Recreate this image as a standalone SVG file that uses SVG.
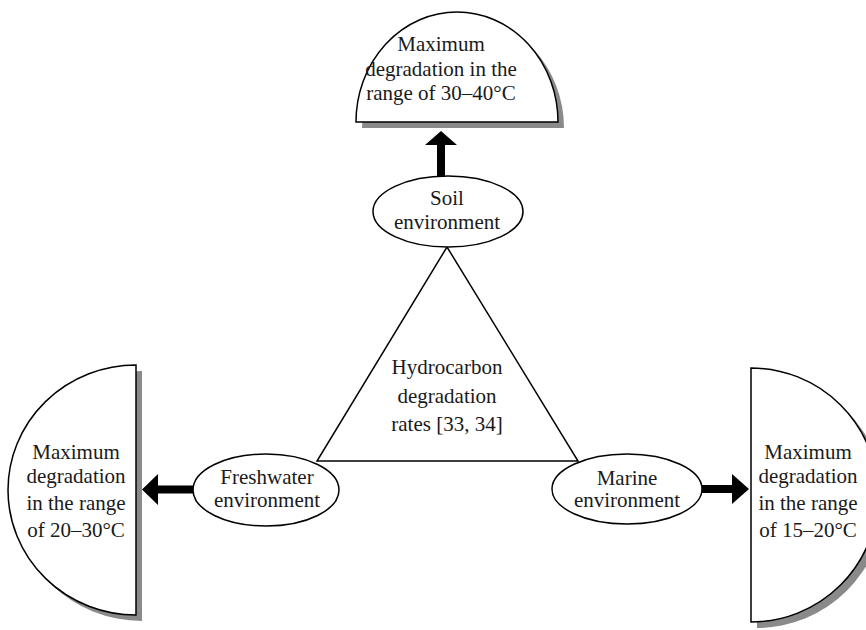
<svg xmlns="http://www.w3.org/2000/svg" width="866" height="630" viewBox="0 0 866 630">
<style>
.shape{fill:#fff;stroke:#000;stroke-width:1.5}
.shadow{fill:#8a8a8a;stroke:none}
.lbl{font-family:"Liberation Serif","Times New Roman",serif;font-size:21px;fill:#1a1a1a;text-anchor:middle}
.arrow{fill:#000;stroke:none}
.line{fill:none;stroke:#000;stroke-width:1.5}
</style>
<rect width="866" height="630" fill="#fff"/>
<g id="soil-range">
<path class="shadow" d="M 362 128 A 101 110 0 0 1 564 128 Z"/>
<path class="shape" d="M 356 122 A 101 110 0 0 1 558 122 Z"/>
<text class="lbl" x="441" y="51">Maximum</text>
<text class="lbl" x="441" y="76">degradation in the</text>
<text class="lbl" x="441" y="100">range of 30–40°C</text>
</g>
<g id="freshwater-range">
<path class="shadow" d="M 142 371 A 128 125 0 0 0 142 621 Z"/>
<path class="shape" d="M 136 365 A 128 125 0 0 0 136 615 Z"/>
<text class="lbl" x="76" y="459">Maximum</text>
<text class="lbl" x="76" y="483">degradation</text>
<text class="lbl" x="76" y="510">in the range</text>
<text class="lbl" x="76" y="537">of 20–30°C</text>
</g>
<g id="marine-range">
<path class="shadow" d="M 757 374 A 127 127 0 0 1 757 628 Z"/>
<path class="shape" d="M 751 368 A 127 127 0 0 1 751 622 Z"/>
<text class="lbl" x="808" y="459">Maximum</text>
<text class="lbl" x="808" y="483">degradation</text>
<text class="lbl" x="808" y="510">in the range</text>
<text class="lbl" x="808" y="537">of 15–20°C</text>
</g>
<g id="connectors">
<polygon class="line" points="447,247 317,461 578,461"/>
<polygon class="arrow" points="437,177 437,145 425,145 441,131 457,145 445,145 445,177"/>
<polygon class="arrow" points="194,485.5 158,485.5 158,474 142,489.5 158,505 158,493.5 194,493.5"/>
<polygon class="arrow" points="702,485 732,485 732,474 749,489 732,504 732,493 702,493"/>
</g>
<g id="hydrocarbon">
<text class="lbl" x="447" y="374">Hydrocarbon</text>
<text class="lbl" x="447" y="403">degradation</text>
<text class="lbl" x="447" y="431">rates [33, 34]</text>
</g>
<g id="soil">
<ellipse class="shape" cx="448" cy="211.5" rx="75" ry="35.5"/>
<text class="lbl" x="447" y="205">Soil</text>
<text class="lbl" x="447" y="229">environment</text>
</g>
<g id="freshwater">
<ellipse class="shape" cx="266" cy="490" rx="73" ry="36"/>
<text class="lbl" x="267" y="484">Freshwater</text>
<text class="lbl" x="267" y="507">environment</text>
</g>
<g id="marine">
<ellipse class="shape" cx="627" cy="489" rx="75" ry="35"/>
<text class="lbl" x="627" y="485">Marine</text>
<text class="lbl" x="627" y="507">environment</text>
</g>
</svg>
